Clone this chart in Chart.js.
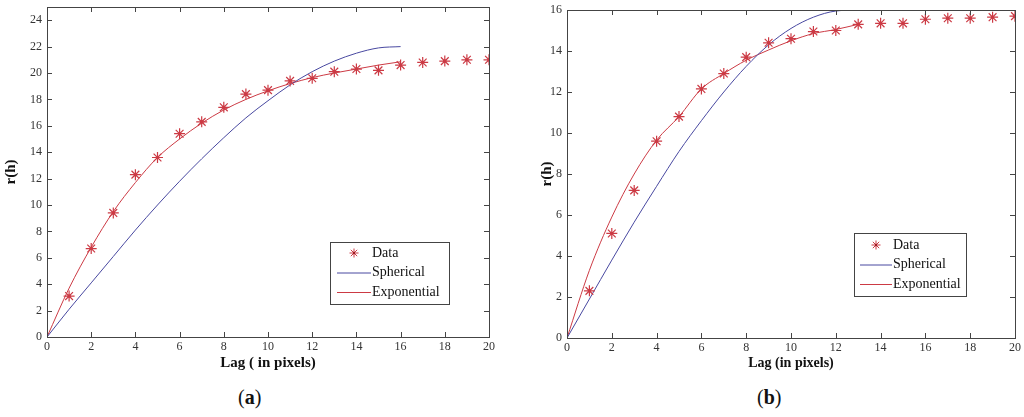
<!DOCTYPE html>
<html>
<head>
<meta charset="utf-8">
<script src="https://cdn.jsdelivr.net/npm/chart.js@4.4.1/dist/chart.umd.min.js"></script>
<style>
  html, body { margin: 0; padding: 0; background: #fff; }
  body { width: 1024px; height: 417px; position: relative; overflow: hidden; font-family: "Liberation Serif", serif; }
  .panel { position: absolute; top: 0; width: 512px; height: 380px; }
  .caption { position: absolute; top: 386px; font-size: 20px; color: #111; }
  .caption b { font-weight: bold; }
</style>
</head>
<body>
<div class="panel" style="left:0"><canvas id="chartA"></canvas></div>
<div class="panel" style="left:512px"><canvas id="chartB"></canvas></div>
<div class="caption" style="left:238px">(<b>a</b>)</div>
<div class="caption" style="left:757px">(<b>b</b>)</div>
<script>
// --- data ---
const lags = [1, 2, 3, 4, 5, 6, 7, 8, 9, 10, 11, 12, 13, 14, 15, 16, 17, 18, 19, 20];
const xTicks = [0, 2, 4, 6, 8, 10, 12, 14, 16, 18, 20];

// panel (a)
const dataA = [3.1, 6.7, 9.4, 12.3, 13.6, 15.4, 16.3, 17.4, 18.4, 18.7, 19.4, 19.6, 20.1, 20.3, 20.2, 20.6, 20.8, 20.9, 21.0, 21.0];
const modelLagsA = [0, 1, 2, 3, 4, 5, 6, 7, 8, 9, 10, 11, 12, 13, 14, 15, 16];
const sphericalA = [0, 2.1, 4.1, 6.1, 8.1, 10.0, 11.8, 13.5, 15.1, 16.6, 17.9, 19.1, 20.1, 20.9, 21.5, 21.9, 22.0];
const exponentialA = [0, 3.7, 6.8, 9.5, 11.7, 13.6, 15.0, 16.2, 17.2, 18.0, 18.65, 19.2, 19.65, 20.0, 20.3, 20.6, 20.85];
const yTicksA = [0, 2, 4, 6, 8, 10, 12, 14, 16, 18, 20, 22, 24];

// panel (b)
const dataB = [2.3, 5.1, 7.2, 9.6, 10.8, 12.15, 12.9, 13.7, 14.4, 14.6, 14.95, 15.0, 15.3, 15.35, 15.35, 15.55, 15.6, 15.6, 15.65, 15.7];
const modelLagsB = [0, 1, 2, 3, 4, 5, 6, 7, 8, 9, 10, 11, 12, 13];
const sphericalB = [0, 1.9, 3.8, 5.65, 7.4, 9.1, 10.6, 12.0, 13.25, 14.3, 15.1, 15.65, 15.95, 16.0];
const exponentialB = [0, 3.3, 5.9, 8.0, 9.65, 10.8, 12.15, 12.9, 13.55, 14.05, 14.5, 14.85, 15.05, 15.3];
const yTicksB = [0, 2, 4, 6, 8, 10, 12, 14, 16];

const legendLabels = ['Data', 'Spherical', 'Exponential'];

const SERIF = '"Liberation Serif", "DejaVu Serif", serif';
const RED = '#cc3a44';
const DARKRED = '#a01820';
const BLUE = '#4848a0';
const AXIS = '#444';
const legendColors = [RED, BLUE, RED];

const pts = (xs, ys) => xs.map((x, i) => ({ x: x, y: ys[i] }));

// MATLAB-like box with inward ticks on all sides
const boxPlugin = {
  id: 'matlabBox',
  afterDraw(chart) {
    const { ctx, chartArea: a, scales } = chart;
    ctx.save();
    ctx.strokeStyle = AXIS;
    ctx.lineWidth = 1;
    ctx.strokeRect(Math.round(a.left) + 0.5, Math.round(a.top) + 0.5, Math.round(a.right - a.left), Math.round(a.bottom - a.top));
    ctx.beginPath();
    scales.x.ticks.forEach(t => {
      const px = Math.round(scales.x.getPixelForValue(t.value)) + 0.5;
      ctx.moveTo(px, a.bottom); ctx.lineTo(px, a.bottom - 5);
      ctx.moveTo(px, a.top); ctx.lineTo(px, a.top + 5);
    });
    scales.y.ticks.forEach(t => {
      const py = Math.round(scales.y.getPixelForValue(t.value)) + 0.5;
      ctx.moveTo(a.left, py); ctx.lineTo(a.left + 5, py);
      ctx.moveTo(a.right, py); ctx.lineTo(a.right - 5, py);
    });
    ctx.stroke();
    ctx.restore();
  }
};

// legend box drawn inside the plot
const legendPlugin = {
  id: 'boxLegend',
  afterDraw(chart, args, opts) {
    const { ctx } = chart;
    const x = opts.x, y = opts.y, w = opts.w, h = opts.h;
    ctx.save();
    ctx.fillStyle = '#fff';
    ctx.fillRect(x, y, w, h);
    ctx.strokeStyle = AXIS;
    ctx.lineWidth = 1;
    ctx.strokeRect(x + 0.5, y + 0.5, w, h);
    ctx.font = '14px ' + SERIF;
    ctx.textBaseline = 'middle';
    legendLabels.forEach((label, i) => {
      const cy = y + opts.row0 + i * opts.rowStep;
      const mx = x + (opts.lineX0 + opts.lineX1) / 2;
      ctx.lineWidth = 1;
      ctx.strokeStyle = legendColors[i];
      if (i === 0) {
        Chart.helpers.drawPoint(ctx, { pointStyle: 'star', radius: 4.5, borderWidth: 1 }, mx, cy);
        ctx.fillStyle = DARKRED;
        ctx.beginPath();
        ctx.arc(mx, cy, 1.2, 0, Math.PI * 2);
        ctx.fill();
      } else {
        ctx.beginPath();
        ctx.moveTo(x + opts.lineX0, cy + 0.5);
        ctx.lineTo(x + opts.lineX1, cy + 0.5);
        ctx.stroke();
      }
      ctx.fillStyle = '#111';
      ctx.fillText(label, x + opts.textX, cy);
    });
    ctx.restore();
  }
};

function makeChart(id, cfg) {
  const tickValues = cfg.yTicks;
  return new Chart(document.getElementById(id), {
    type: 'scatter',
    data: {
      datasets: [
        {
          label: legendLabels[0],
          data: pts(lags, cfg.data),
          showLine: false,
          pointStyle: 'star',
          pointRadius: 5.5,
          pointBorderWidth: 1.2,
          borderColor: RED,
          backgroundColor: RED
        },
        {
          // centre dot of the asterisk markers
          label: '',
          data: pts(lags, cfg.data),
          showLine: false,
          pointStyle: 'circle',
          pointRadius: 1.5,
          pointBorderWidth: 0,
          backgroundColor: DARKRED,
          borderColor: DARKRED
        },
        {
          label: legendLabels[1],
          data: pts(cfg.modelLags, cfg.spherical),
          showLine: true,
          borderColor: BLUE,
          borderWidth: 1,
          pointRadius: 0,
          cubicInterpolationMode: 'monotone'
        },
        {
          label: legendLabels[2],
          data: pts(cfg.modelLags, cfg.exponential),
          showLine: true,
          borderColor: RED,
          borderWidth: 1,
          pointRadius: 0,
          cubicInterpolationMode: 'monotone'
        }
      ]
    },
    options: {
      responsive: false,
      animation: false,
      devicePixelRatio: 1,
      layout: { padding: cfg.padding },
      plugins: {
        legend: { display: false },
        tooltip: { enabled: false },
        boxLegend: cfg.legend
      },
      scales: {
        x: {
          type: 'linear',
          min: 0, max: 20,
          afterBuildTicks: s => { s.ticks = xTicks.map(v => ({ value: v })); },
          afterFit: s => { s.height = cfg.xHeight; s.paddingLeft = 0; s.paddingRight = 0; },
          grid: { display: false, drawTicks: false },
          border: { display: false },
          ticks: { color: '#333', font: { family: SERIF, size: 12 }, padding: 3, maxRotation: 0 },
          title: { display: true, text: cfg.xTitle, color: '#111', font: { family: SERIF, size: cfg.xTitleSize, weight: 'bold' }, padding: { top: 0, bottom: 8 } }
        },
        y: {
          min: 0, max: cfg.yMax,
          afterBuildTicks: s => { s.ticks = tickValues.map(v => ({ value: v })); },
          afterFit: s => { s.width = cfg.yWidth; s.paddingTop = 0; s.paddingBottom = 0; },
          grid: { display: false, drawTicks: false },
          border: { display: false },
          ticks: { color: '#333', font: { family: SERIF, size: 12 }, padding: 5 },
          title: { display: true, text: 'r(h)', color: '#111', font: { family: SERIF, size: 15, weight: 'bold' }, padding: { top: 2, bottom: 0 } }
        }
      }
    },
    plugins: [boxPlugin, legendPlugin]
  });
}

function sizeCanvas(id) {
  const c = document.getElementById(id);
  c.width = 512; c.height = 380;
  c.style.width = '512px'; c.style.height = '380px';
}
sizeCanvas('chartA');
sizeCanvas('chartB');

makeChart('chartA', {
  data: dataA, modelLags: modelLagsA, spherical: sphericalA, exponential: exponentialA,
  yTicks: yTicksA, yMax: 25, xTitle: 'Lag ( in pixels)', xTitleSize: 15,
  padding: { top: 7, right: 23, left: 0, bottom: 0 },
  yWidth: 47, xHeight: 43,
  legend: { x: 330, y: 242, w: 119, h: 62, row0: 11, rowStep: 19.5, lineX0: 7, lineX1: 41, textX: 42 }
});

makeChart('chartB', {
  data: dataB, modelLags: modelLagsB, spherical: sphericalB, exponential: exponentialB,
  yTicks: yTicksB, yMax: 16, xTitle: 'Lag (in pixels)', xTitleSize: 14,
  padding: { top: 10, right: 9, left: 24, bottom: 0 },
  yWidth: 31, xHeight: 42,
  legend: { x: 342, y: 233, w: 112, h: 63, row0: 12, rowStep: 19.5, lineX0: 6, lineX1: 38, textX: 39 }
});
</script>
</body>
</html>
